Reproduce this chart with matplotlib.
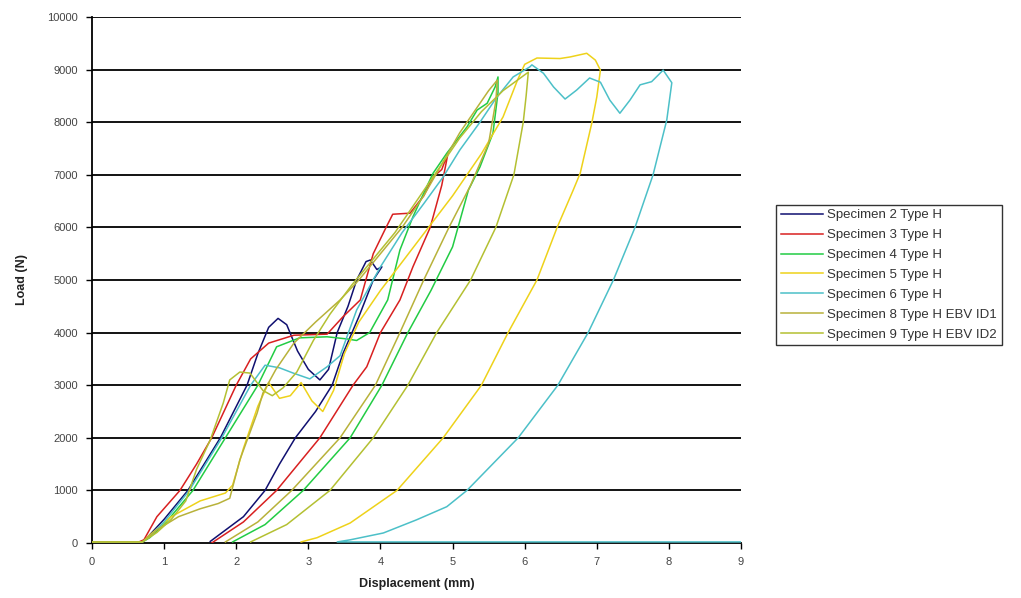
import matplotlib
matplotlib.use("Agg")
import matplotlib.pyplot as plt

plt.rcParams['font.family'] = ['Liberation Sans', 'DejaVu Sans']

# Load-displacement records (loading branch, then unloading branch)
spec2_x = [0.0, 0.68, 0.75, 1.0, 1.33, 1.78, 2.15, 2.3, 2.45, 2.58, 2.7, 2.85, 3.0, 3.16, 3.28,
           3.4, 3.55, 3.67, 3.8, 3.86, 3.95, 4.02, 3.9, 3.7, 3.48, 3.33, 3.1, 2.82, 2.6, 2.4,
           2.1, 1.64]
spec2_y = [20, 20, 80, 450, 1000, 2000, 3000, 3600, 4100, 4270, 4150, 3650, 3300, 3100, 3300,
           4000, 4500, 5000, 5350, 5380, 5200, 5250, 5000, 4300, 3600, 3000, 2500, 2000, 1500, 1000,
           500, 30]

spec3_x = [0.0, 0.65, 0.72, 0.9, 1.22, 1.45, 1.66, 2.0, 2.2, 2.45, 2.8, 3.26, 3.48, 3.72, 3.9,
           4.06, 4.17, 4.41, 4.6, 4.73, 4.85, 4.94, 4.85, 4.69, 4.45, 4.27, 4.0, 3.81, 3.62, 3.16,
           2.56, 2.1, 1.66]
spec3_y = [20, 20, 60, 500, 1000, 1500, 2000, 3000, 3500, 3800, 3950, 3970, 4300, 4620, 5500,
           5950, 6250, 6270, 6600, 6960, 7100, 7430, 6800, 6000, 5250, 4620, 4000, 3350, 3000, 2000,
           1000, 400, 0]

spec4_x = [0.0, 0.7, 0.8, 1.0, 1.4, 1.85, 2.3, 2.56, 2.88, 3.26, 3.53, 3.67, 3.85, 4.1, 4.27,
           4.45, 4.62, 4.73, 4.92, 5.2, 5.34, 5.48, 5.59, 5.63, 5.63, 5.56, 5.38, 5.22, 5.0, 4.7,
           4.38, 4.02, 3.58, 2.93, 2.4, 1.95]
spec4_y = [20, 20, 100, 350, 1000, 2000, 3000, 3730, 3900, 3920, 3880, 3850, 4000, 4620, 5570,
           6200, 6710, 7030, 7410, 7910, 8230, 8360, 8670, 8860, 8560, 7790, 7150, 6710, 5630, 4800,
           4000, 3000, 2000, 1000, 350, 20]

spec5_x = [0.0, 0.7, 0.8, 1.1, 1.5, 1.85, 1.95, 2.1, 2.3, 2.45, 2.6, 2.75, 2.9, 3.05, 3.2,
           3.35, 3.5, 3.7, 4.0, 4.5, 5.0, 5.4, 5.7, 5.9, 6.0, 6.17, 6.49, 6.63, 6.86, 6.98,
           7.05, 7.0, 6.93, 6.77, 6.67, 6.45, 6.17, 5.77, 5.4, 4.87, 4.23, 3.58, 3.12, 2.9]
spec5_y = [20, 20, 150, 500, 800, 950, 1100, 1800, 2600, 3050, 2750, 2800, 3050, 2700, 2500,
           2900, 3600, 4200, 4800, 5700, 6600, 7400, 8100, 8800, 9100, 9220, 9210, 9240, 9310, 9180,
           8990, 8480, 7980, 7030, 6700, 6000, 5000, 4000, 3000, 2000, 1000, 380, 100, 20]

spec6_x = [0.0, 0.7, 0.8, 1.0, 1.35, 1.8, 2.2, 2.4, 2.6, 2.79, 3.02, 3.26, 3.44, 3.67, 4.0,
           4.3, 4.6, 4.87, 5.1, 5.38, 5.6, 5.84, 6.07, 6.1, 6.26, 6.4, 6.56, 6.72, 6.9, 7.05,
           7.18, 7.32, 7.46, 7.6, 7.76, 7.92, 8.04, 7.97, 7.78, 7.53, 7.23, 6.88, 6.46, 5.91,
           5.2, 4.92, 4.5, 4.04, 3.58, 3.4, 9.0]
spec6_y = [20, 20, 120, 400, 1000, 2000, 3000, 3380, 3330, 3230, 3120, 3350, 3560, 4430, 5250,
           5900, 6450, 6960, 7470, 8000, 8450, 8860, 9050, 9090, 8930, 8670, 8440, 8610, 8840, 8760,
           8420, 8170, 8420, 8710, 8770, 8990, 8750, 8040, 7000, 6000, 5000, 4000, 3000, 2000,
           1000, 690, 440, 190, 60, 20, 20]

spec8_x = [0.0, 0.7, 0.9, 1.2, 1.5, 1.75, 1.91, 2.05, 2.29, 2.37, 2.55, 2.8, 3.1, 3.44, 3.7,
           4.0, 4.3, 4.6, 4.85, 5.1, 5.3, 5.5, 5.62, 5.6, 5.5, 5.25, 4.95, 4.6, 4.27, 3.93,
           3.44, 2.77, 2.3, 1.85]
spec8_y = [20, 20, 250, 500, 650, 750, 850, 1580, 2470, 2850, 3300, 3800, 4200, 4620, 5000,
           5500, 6000, 6600, 7200, 7800, 8200, 8600, 8800, 8400, 7600, 6800, 6000, 5000, 4000, 3000,
           2000, 1000, 400, 20]

spec9_x = [0.0, 0.7, 0.9, 1.1, 1.3, 1.45, 1.64, 1.82, 1.91, 2.05, 2.19, 2.37, 2.5, 2.65, 2.84,
           3.07, 3.3, 3.6, 3.9, 4.2, 4.5, 4.8, 5.1, 5.4, 5.7, 5.95, 6.05, 6.02, 5.98, 5.85,
           5.6, 5.25, 4.78, 4.38, 3.9, 3.3, 2.7, 2.2]
spec9_y = [20, 20, 200, 450, 800, 1400, 1960, 2660, 3100, 3250, 3230, 2900, 2800, 2950, 3250,
           3850, 4350, 4900, 5400, 5900, 6500, 7100, 7700, 8200, 8600, 8850, 8950, 8500, 8000, 7000,
           6000, 5000, 4000, 3000, 2000, 1000, 350, 20]

labels = ["Specimen 2 Type H", "Specimen 3 Type H", "Specimen 4 Type H", "Specimen 5 Type H",
          "Specimen 6 Type H", "Specimen 8 Type H EBV ID1", "Specimen 9 Type H EBV ID2"]
colors = ["#101070", "#D82020", "#22CC44", "#EED21A", "#4CC0C8", "#B8B23A", "#B4C032"]
series = [(spec2_x, spec2_y), (spec3_x, spec3_y), (spec4_x, spec4_y), (spec5_x, spec5_y),
          (spec6_x, spec6_y), (spec8_x, spec8_y), (spec9_x, spec9_y)]

x_ticks = list(range(0, 10))
y_ticks = list(range(0, 10001, 1000))

fig = plt.figure(figsize=(10.21, 5.98), dpi=100)
ax = fig.add_axes([0.0901, 0.092, 0.6357, 0.8796])

for yv in y_ticks[1:]:
    ax.axhline(yv, color="black", lw=1.3, zorder=1)

for (xs, ys), lab, c in zip(series, labels, colors):
    ax.plot(xs, ys, color=c, lw=1.1, label=lab, zorder=3)

ax.set_xlim(0, 9)
ax.set_ylim(0, 10000)
ax.set_xticks(x_ticks)
ax.set_yticks(y_ticks)
ax.tick_params(axis="both", direction="out", length=4, width=1, labelsize=8,
               colors="black", labelcolor="#444444", pad=6)
for side in ("top", "right"):
    ax.spines[side].set_visible(False)
for side in ("left", "bottom"):
    ax.spines[side].set_linewidth(1.3)
    ax.spines[side].set_color("black")

ax.set_xlabel("Displacement (mm)", fontsize=9, fontweight="bold", color="#222222", labelpad=8)
ax.set_ylabel("Load (N)", fontsize=9, fontweight="bold", color="#222222", labelpad=14)

leg = fig.legend(loc="upper left", bbox_to_anchor=(0.754, 0.669), fontsize=9.5,
                 frameon=True, fancybox=False, edgecolor="black", handlelength=3.2,
                 borderpad=0.35, labelspacing=0.58, handletextpad=0.3)
leg.get_frame().set_linewidth(1.0)
for t in leg.get_texts():
    t.set_color("#333333")

fig.savefig("out.png", dpi=100)
